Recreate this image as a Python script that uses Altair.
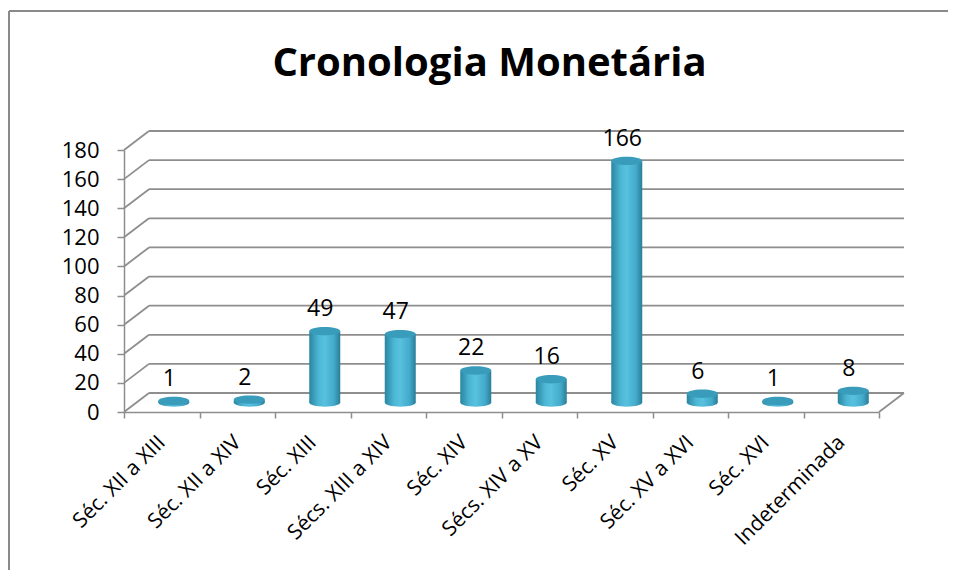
import altair as alt
import pandas as pd

categories = ["Séc. XII a XIII", "Séc. XII a XIV", "Séc. XIII", "Sécs. XIII a XIV",
              "Séc. XIV", "Sécs. XIV a XV", "Séc. XV", "Séc. XV a XVI", "Séc. XVI",
              "Indeterminada"]
values = [1, 2, 49, 47, 22, 16, 166, 6, 1, 8]
y_ticks = [0, 20, 40, 60, 80, 100, 120, 140, 160, 180]
title_text = "Cronologia Monetária"

W, H = 755, 262
DX, DY = 25, -19
BAR_DX, BAR_DY = 12, -9.5
FONT = "Open Sans"
GRID = "#8e8e8e"
PAD_B = 158
PAD_R = 69

bars = pd.DataFrame({"cat": categories, "value": values, "label": [str(v) for v in values]})
grid = pd.DataFrame({"v": y_ticks})
floor = pd.DataFrame({"v": [0]})
single = pd.DataFrame({"t": [title_text]})

xscale = alt.Scale(domain=categories, paddingInner=0, paddingOuter=0)
yscale = alt.Scale(domain=[0, 180], nice=False, zero=True)

x_axis = alt.Axis(title=None, tickBand="extent", labelAngle=-45, labelAlign="right",
                  labelBaseline="middle", labelFont=FONT, labelFontSize=21, labelColor="#000000",
                  labelPadding=21, labelOffset=0, tickSize=6, tickColor=GRID, tickWidth=1.5,
                  domainColor=GRID, domainWidth=1.5, grid=False)
y_axis = alt.Axis(title=None, values=y_ticks, grid=False, labelFont=FONT, labelFontSize=22,
                  labelColor="#000000", labelPadding=18, tickSize=7, tickColor=GRID,
                  tickWidth=1.5, domainColor=GRID, domainWidth=1.5)

X = alt.X("cat:N", scale=xscale, sort=categories, axis=x_axis)

frame_top = alt.Chart(single).mark_rule(color="#8a8a8a", strokeWidth=2).encode(
    x=alt.value(-115), x2=alt.value(W + PAD_R), y=alt.value(-139))
frame_left = alt.Chart(single).mark_rule(color="#8a8a8a", strokeWidth=2).encode(
    x=alt.value(-115), y=alt.value(-139), y2=alt.value(H + PAD_B))

title_layer = alt.Chart(single).mark_text(font=FONT, fontSize=40, fontWeight="bold",
                                          color="#000000", baseline="middle", align="center").encode(
    x=alt.value(W / 2 - 12), y=alt.value(-86), text="t:N")

back_grid = alt.Chart(grid).mark_rule(color=GRID, strokeWidth=1.8, yOffset=DY).encode(
    x=alt.value(DX), x2=alt.value(W + DX),
    y=alt.Y("v:Q", scale=yscale, axis=y_axis))

diag = alt.Chart(grid).mark_rule(color=GRID, strokeWidth=1.8, y2Offset=DY).encode(
    x=alt.value(0), x2=alt.value(DX),
    y=alt.Y("v:Q", scale=yscale, axis=y_axis), y2=alt.Y2("v"))

floor_side = alt.Chart(floor).mark_rule(color=GRID, strokeWidth=1.8, y2Offset=DY).encode(
    x=alt.value(W), x2=alt.value(W + DX),
    y=alt.Y("v:Q", scale=yscale, axis=y_axis), y2=alt.Y2("v"))

ELLIPSE = "M-1,0 A1,0.27,0,1,1,1,0 A1,0.27,0,1,1,-1,0 Z"
BW = 31

body_fill = alt.Gradient(gradient="linear", x1=0, x2=1, y1=0, y2=0, stops=[
    alt.GradientStop(offset=0, color="#2a859f"),
    alt.GradientStop(offset=0.3, color="#4cb7d5"),
    alt.GradientStop(offset=0.5, color="#58c1de"),
    alt.GradientStop(offset=0.8, color="#43aacb"),
    alt.GradientStop(offset=1, color="#2a7d97")])

bottom_cap = alt.Chart(bars).transform_calculate(zero="0").mark_point(
    shape=ELLIPSE, size=BW * BW, filled=True, fill=body_fill, strokeWidth=0, opacity=1,
    xOffset=BAR_DX, yOffset=BAR_DY).encode(
    x=X, y=alt.Y("zero:Q", scale=yscale, axis=y_axis))

body = alt.Chart(bars).mark_bar(fill=body_fill, width=BW, xOffset=BAR_DX,
                                yOffset=BAR_DY, y2Offset=BAR_DY).encode(
    x=X, y=alt.Y("value:Q", scale=yscale, axis=y_axis))

top_cap = alt.Chart(bars).mark_point(
    shape=ELLIPSE, size=BW * BW, filled=True, fill="#3a9cbb", strokeWidth=0, opacity=1,
    xOffset=BAR_DX, yOffset=BAR_DY).encode(
    x=X, y=alt.Y("value:Q", scale=yscale, axis=y_axis))

labels = alt.Chart(bars).mark_text(font=FONT, fontSize=23, color="#000000", baseline="middle",
                                   dx=BAR_DX - 4.5, dy=BAR_DY - 22).encode(
    x=X, y=alt.Y("value:Q", scale=yscale, axis=y_axis), text="label:N")

chart = alt.layer(frame_top, frame_left, title_layer, back_grid, diag, floor_side,
                  bottom_cap, body, top_cap, labels).properties(
    width=W, height=H,
    autosize=alt.AutoSizeParams(type="none"),
    padding={"left": 116, "top": 142, "right": PAD_R, "bottom": PAD_B},
    background="#ffffff",
).configure_view(stroke=None)

chart.save("out.html", embed_options={"renderer": "svg", "actions": False})
